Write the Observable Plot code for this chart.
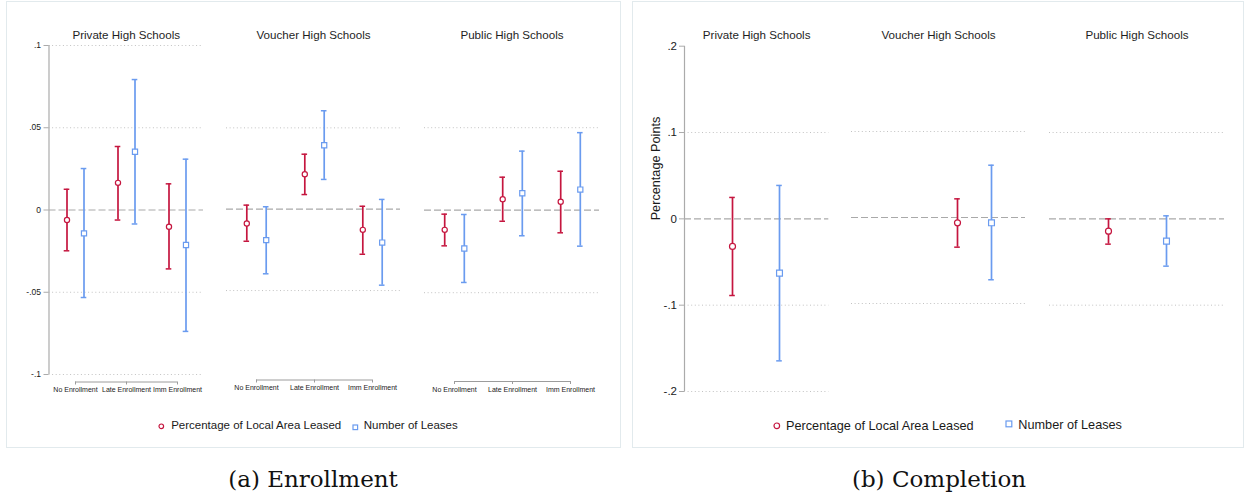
<!DOCTYPE html>
<html>
<head>
<meta charset="utf-8">
<script src="https://cdn.jsdelivr.net/npm/d3@7"></script>
<script src="https://cdn.jsdelivr.net/npm/@observablehq/plot@0.6"></script>
<style>
  body { margin: 0; background: #fff; }
  #root { position: relative; width: 1245px; height: 497px; font-family: "Liberation Sans", Arial, sans-serif; color: #1a1a1a; overflow: hidden; }
  .panel { position: absolute; border: 1px solid #e2eaed; box-sizing: border-box; }
  .lg { position: absolute; white-space: nowrap; transform: translateY(-50%); line-height: 1; }
  .cap { position: absolute; font-family: "DejaVu Serif", "Liberation Serif", serif; font-size: 23px; transform: translate(-50%, -50%); white-space: nowrap; color: #111; }
</style>
</head>
<body>
<div id="root"></div>
<script>
// ---------------- data ----------------
const categories = ["No Enrollment", "Late Enrollment", "Imm Enrollment"];
const schools = ["Private High Schools", "Voucher High Schools", "Public High Schools"];
const seriesNames = ["Percentage of Local Area Leased", "Number of Leases"];

// Enrollment (school-major: private, voucher, public; each No / Late / Imm)
const enrollPctEst = [-0.0061, 0.0165, -0.0102, -0.0088, 0.0215, -0.0127, -0.0119, 0.0067, 0.0051];
const enrollPctLo  = [-0.0248, -0.0061, -0.0358, -0.0197, 0.0090, -0.0277, -0.0216, -0.0067, -0.0137];
const enrollPctHi  = [0.0126, 0.0386, 0.0159, 0.0025, 0.0338, 0.0018, -0.0024, 0.0200, 0.0236];
const enrollNumEst = [-0.0142, 0.0354, -0.0213, -0.0190, 0.0393, -0.0205, -0.0232, 0.0103, 0.0125];
const enrollNumLo  = [-0.0532, -0.0085, -0.0738, -0.0397, 0.0183, -0.0467, -0.0438, -0.0155, -0.0218];
const enrollNumHi  = [0.0252, 0.0793, 0.0309, 0.0015, 0.0605, 0.0060, -0.0026, 0.0358, 0.0470];

// Completion (private, voucher, public)
const complPctEst = [-0.0320, -0.0062, -0.0143];
const complPctLo  = [-0.0888, -0.0345, -0.0293];
const complPctHi  = [0.0248, 0.0217, 0.0000];
const complNumEst = [-0.0629, -0.0062, -0.0258];
const complNumLo  = [-0.1645, -0.0724, -0.0548];
const complNumHi  = [0.0387, 0.0608, 0.0035];

const enrollTicks = [-0.1, -0.05, 0, 0.05, 0.1];
const enrollTickLabels = ["-.1", "-.05", "0", ".05", ".1"];
const complTicks = [-0.2, -0.1, 0, 0.1, 0.2];
const complTickLabels = ["-.2", "-.1", "0", ".1", ".2"];
const yTitle = "Percentage Points";
const captions = ["(a) Enrollment", "(b) Completion"];

// ---------------- tables ----------------
const enrollRows = [];
schools.forEach((s, si) => categories.forEach((c, ci) => {
  const k = si * 3 + ci;
  enrollRows.push({school: s, x: c, series: seriesNames[0], est: enrollPctEst[k], lo: enrollPctLo[k], hi: enrollPctHi[k]});
  enrollRows.push({school: s, x: c, series: seriesNames[1], est: enrollNumEst[k], lo: enrollNumLo[k], hi: enrollNumHi[k]});
}));
const complRows = [];
schools.forEach((s, si) => {
  complRows.push({school: s, x: seriesNames[0], series: seriesNames[0], est: complPctEst[si], lo: complPctLo[si], hi: complPctHi[si]});
  complRows.push({school: s, x: seriesNames[1], series: seriesNames[1], est: complNumEst[si], lo: complNumLo[si], hi: complNumHi[si]});
});

// ---------------- styling / layout ----------------
const RED = "#c5163f", BLUE = "#6a9bef";
const colors = [RED, BLUE];
const symbols = ["circle", "square"];
const W = 1245, H = 447;
const root = document.getElementById("root");

function panel(l, t, w, h) {
  const d = document.createElement("div");
  d.className = "panel";
  Object.assign(d.style, {left: l + "px", top: t + "px", width: w + "px", height: h + "px"});
  root.appendChild(d);
}
panel(5.5, 1, 615.5, 446.5);
panel(631.5, 1, 612.5, 446.5);

function subplot(cfg) {
  const [fl, fr, ft, fb] = cfg.frame;
  const rows = cfg.rows.filter(d => d.school === cfg.school);
  const marks = [
    Plot.ruleY(cfg.grid, {stroke: "#c2c2c2", strokeDasharray: "1,2.6", strokeWidth: 1}),
    Plot.ruleY([0], {stroke: "#a9a9a9", strokeDasharray: "7,3", strokeWidth: 1.2})
  ];
  seriesNames.forEach((sn, k) => {
    const d = rows.filter(r => r.series === sn);
    const dx = cfg.dxs[k];
    marks.push(
      Plot.ruleX(d, {x: "x", y1: "lo", y2: "hi", stroke: colors[k], strokeWidth: 1.7, dx}),
      Plot.ruleY(d, {y: "hi", x1: "x", x2: "x", insetLeft: -2.8, insetRight: -2.8, stroke: colors[k], strokeWidth: 1.5, dx}),
      Plot.ruleY(d, {y: "lo", x1: "x", x2: "x", insetLeft: -2.8, insetRight: -2.8, stroke: colors[k], strokeWidth: 1.5, dx}),
      Plot.dot(d, {x: "x", y: "est", symbol: symbols[k], r: cfg.r[k], stroke: colors[k], fill: "white", strokeWidth: 1.2, dx})
    );
  });
  if (cfg.yAxis) {
    const axisLine = [{x: cfg.xDomain[0], y1: cfg.yDomain[0], y2: cfg.yDomain[1]}];
    marks.push(
      Plot.ruleX(axisLine, {x: "x", y1: "y1", y2: "y2", dx: fl - cfg.xRange[0], stroke: "#ababab", strokeWidth: 1.2}),
      Plot.axisY({anchor: "left", ticks: cfg.ticks, tickFormat: v => cfg.tickLabels[cfg.ticks.indexOf(v)],
        tickSize: 5, tickPadding: cfg.tickPadding, fontSize: cfg.tickFont, stroke: "#ababab", fill: "#1a1a1a", label: null})
    );
  }
  if (cfg.xAxis) {
    const bracket = [{y: cfg.yDomain[0], x1: cfg.xDomain[0], x2: cfg.xDomain[cfg.xDomain.length - 1]}];
    marks.push(
      Plot.ruleY(bracket, {y: "y", x1: "x1", x2: "x2", dy: fb - cfg.yRange[0], stroke: "#9c9c9c", strokeWidth: 1}),
      Plot.axisX({anchor: "bottom", tickSize: 3, tickPadding: 2.5, fontSize: 7, stroke: "#9c9c9c", fill: "#1a1a1a", label: null})
    );
  }
  marks.push(Plot.text([cfg.school], {frameAnchor: "top", dy: 30 - ft, fontSize: 11.6, fill: "#1e1e1e"}));
  if (cfg.yLabel) {
    marks.push(Plot.text([cfg.yLabel], {frameAnchor: "left", dx: cfg.yLabelX - fl, dy: 1.5, rotate: -90, fontSize: 12.7, fill: "#1a1a1a"}));
  }
  const svg = Plot.plot({
    width: W, height: H,
    marginLeft: fl, marginRight: W - fr, marginTop: ft, marginBottom: H - fb,
    x: {type: "point", domain: cfg.xDomain, range: cfg.xRange, padding: 0, label: null, axis: cfg.xAxis ? undefined : null},
    y: {domain: cfg.yDomain, range: cfg.yRange, label: null, axis: cfg.yAxis ? undefined : null},
    style: {background: "transparent", fontFamily: "'Liberation Sans', Arial, sans-serif", overflow: "visible"},
    marks
  });
  Object.assign(svg.style, {position: "absolute", left: "0px", top: "0px", maxWidth: "none"});
  root.appendChild(svg);
}

// Enrollment panel
const enrollCfg = [
  {frame: [48.5, 203, 45, 381.5], xRange: [75, 177], yRange: [374, 45], dxs: [-8.5, 8.5], grid: [-0.1, -0.05, 0.05, 0.1], yAxis: true},
  {frame: [226, 400, 45, 379.5], xRange: [255, 372], yRange: [371.4, 46], dxs: [-9.7, 9.7], grid: [-0.05, 0.05], yAxis: false},
  {frame: [424, 599, 45, 381], xRange: [453.3, 570], yRange: [374.7, 44.7], dxs: [-9.8, 9.8], grid: [-0.05, 0.05], yAxis: false}
];
enrollCfg.forEach((c, i) => subplot(Object.assign(c, {
  rows: enrollRows, school: schools[i], xDomain: categories, yDomain: [-0.1, 0.1],
  ticks: enrollTicks, tickLabels: enrollTickLabels, tickFont: 8.5, tickPadding: 3, xAxis: true, r: [2.6, 2.9]
})));

// Completion panel
const complCfg = [
  {frame: [684, 828.3, 45.7, 391], xRange: [732, 779.7], yRange: [391, 45.7], grid: [-0.2, -0.1, 0.1], yAxis: true, yLabel: yTitle, yLabelX: 655},
  {frame: [851, 1025, 45, 389], xRange: [957.3, 991.3], yRange: [389, 45], grid: [-0.1, 0.1], yAxis: false},
  {frame: [1049, 1224, 45.7, 391], xRange: [1107.7, 1165.7], yRange: [391, 45.7], grid: [-0.1, 0.1], yAxis: false}
];
complCfg.forEach((c, i) => subplot(Object.assign(c, {
  rows: complRows, school: schools[i], xDomain: seriesNames, yDomain: [-0.2, 0.2], dxs: [0, 0],
  ticks: complTicks, tickLabels: complTickLabels, tickFont: 11.5, tickPadding: 2.5, xAxis: false, r: [3, 3.3]
})));

// ---------------- legends ----------------
function legendSymbol(k, cx, cy, size) {
  const ns = "http://www.w3.org/2000/svg";
  const s = document.createElementNS(ns, "svg");
  const w = size + 4;
  s.setAttribute("width", w); s.setAttribute("height", w);
  Object.assign(s.style, {position: "absolute", left: (cx - w / 2) + "px", top: (cy - w / 2) + "px"});
  let el;
  if (k === 0) {
    el = document.createElementNS(ns, "circle");
    el.setAttribute("cx", w / 2); el.setAttribute("cy", w / 2); el.setAttribute("r", size / 2);
  } else {
    el = document.createElementNS(ns, "rect");
    el.setAttribute("x", (w - size) / 2); el.setAttribute("y", (w - size) / 2);
    el.setAttribute("width", size); el.setAttribute("height", size);
  }
  el.setAttribute("fill", "white"); el.setAttribute("stroke", colors[k]); el.setAttribute("stroke-width", 1.2);
  s.appendChild(el);
  root.appendChild(s);
}
function legendText(txt, x, y, fs) {
  const d = document.createElement("div");
  d.className = "lg";
  d.textContent = txt;
  Object.assign(d.style, {left: x + "px", top: y + "px", fontSize: fs + "px"});
  root.appendChild(d);
}
// left legend
legendSymbol(0, 161.3, 426, 4.6);
legendText(seriesNames[0], 171.2, 426, 11.5);
legendSymbol(1, 355, 427.5, 4.6);
legendText(seriesNames[1], 363.8, 426, 11.5);
// right legend
legendSymbol(0, 776.7, 425.7, 5.6);
legendText(seriesNames[0], 786, 425.7, 12.7);
legendSymbol(1, 1009.3, 424.3, 5.8);
legendText(seriesNames[1], 1018.3, 425.2, 12.7);

// ---------------- captions ----------------
[[captions[0], 313], [captions[1], 939]].forEach(([t, x]) => {
  const d = document.createElement("div");
  d.className = "cap";
  d.textContent = t;
  Object.assign(d.style, {left: x + "px", top: "479px"});
  root.appendChild(d);
});
</script>
</body>
</html>
